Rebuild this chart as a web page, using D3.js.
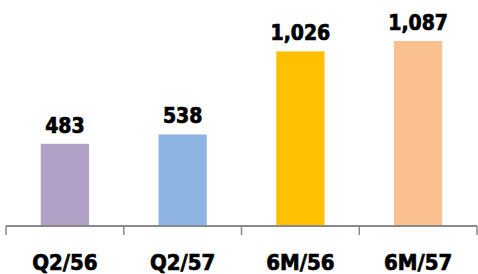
<!DOCTYPE html>
<html>
<head>
<meta charset="utf-8">
<script src="https://cdn.jsdelivr.net/npm/d3@7"></script>
<style>
  body { margin: 0; background: #fff; }
  svg { display: block; }
  text { font-family: "DejaVu Sans Condensed", "DejaVu Sans", sans-serif; font-stretch: condensed; font-weight: bold; }
</style>
</head>
<body>
<svg id="chart" width="478" height="274"></svg>
<script>
const categories = ["Q2/56", "Q2/57", "6M/56", "6M/57"];
const values = [483, 538, 1026, 1087];
const barColors = ["#B2A1C7", "#8EB4E3", "#FFC000", "#FAC090"];

const svg = d3.select("#chart");
const baseY = 226;

const x = d3.scaleBand()
  .domain(categories)
  .range([6, 477])
  .paddingInner(0.59)
  .paddingOuter(0.295);

const y = d3.scaleLinear()
  .domain([0, 1200])
  .range([baseY, baseY - 1200 * 0.1702]);

// bars
svg.selectAll("rect.bar")
  .data(values)
  .join("rect")
  .attr("class", "bar")
  .attr("x", (d, i) => x(categories[i]))
  .attr("y", d => y(d))
  .attr("width", x.bandwidth())
  .attr("height", d => baseY - y(d))
  .attr("fill", (d, i) => barColors[i]);

// value labels (thin stroke to get the heavy look)
svg.selectAll("text.val")
  .data(values)
  .join("text")
  .attr("class", "val")
  .attr("x", (d, i) => x(categories[i]) + x.bandwidth() / 2)
  .attr("y", d => y(d) - 11)
  .attr("text-anchor", "middle")
  .attr("font-size", 21)
  .attr("fill", "#000")
  .attr("stroke", "#000")
  .attr("stroke-width", 0.7)
  .text(d => d3.format(",")(d));

// axis: line + ticks between categories
const axisG = svg.append("g").attr("transform", `translate(0,${baseY})`);
const edges = d3.range(categories.length + 1).map(i => 6 + i * ((477 - 6) / categories.length));
axisG.append("line")
  .attr("x1", 6).attr("x2", 477)
  .attr("y1", 0).attr("y2", 0)
  .attr("stroke", "#898989")
  .attr("stroke-width", 2);
axisG.selectAll("line.tick")
  .data(edges)
  .join("line")
  .attr("class", "tick")
  .attr("x1", d => d).attr("x2", d => d)
  .attr("y1", 0).attr("y2", 9)
  .attr("stroke", "#898989")
  .attr("stroke-width", 1.5);

// category labels
svg.selectAll("text.cat")
  .data(categories)
  .join("text")
  .attr("class", "cat")
  .attr("x", d => x(d) + x.bandwidth() / 2)
  .attr("y", 270)
  .attr("text-anchor", "middle")
  .attr("font-size", 22)
  .attr("fill", "#000")
  .attr("stroke", "#000")
  .attr("stroke-width", 0.7)
  .text(d => d);
</script>
</body>
</html>
